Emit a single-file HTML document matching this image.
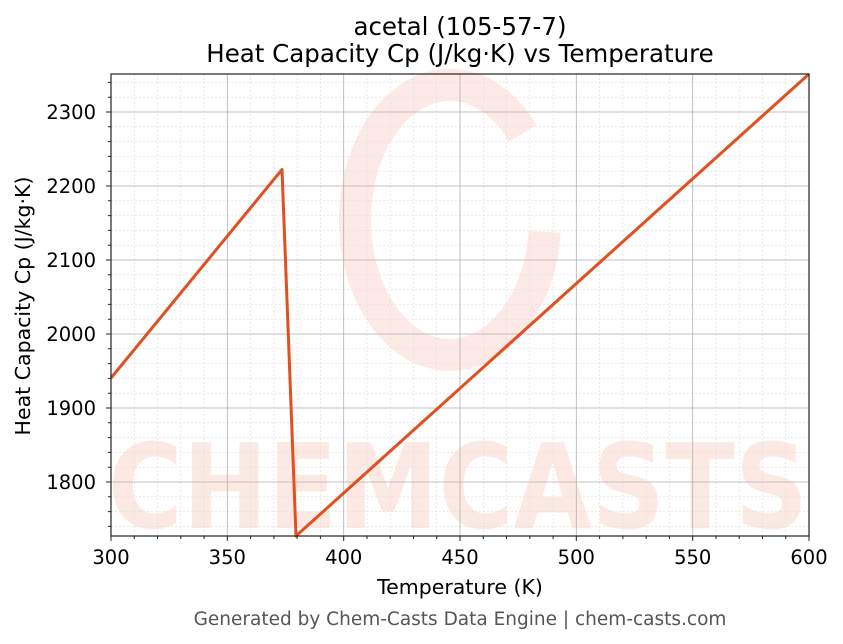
<!DOCTYPE html>
<html><head><meta charset="utf-8"><style>body{margin:0;background:#fff}svg{display:block;font-family:"DejaVu Sans","Liberation Sans",sans-serif}</style></head><body>
<svg width="843" height="644" viewBox="0 0 843 644">
<rect width="843" height="644" fill="#fff"/>
<path d="M522.8 133.2 A95 135 0 1 0 544.6 231.8" fill="none" stroke="#f0603a" stroke-width="32" opacity="0.13"/>
<text x="458" y="528" font-size="118" font-weight="bold" fill="#f0603a" opacity="0.13" text-anchor="middle" textLength="700" lengthAdjust="spacingAndGlyphs">CHEMCASTS</text>
<g stroke="#ddd" stroke-width="0.6" stroke-dasharray="2,2">
<path d="M134.3 74V536M157.5 74V536M180.8 74V536M204.1 74V536M250.6 74V536M273.9 74V536M297.1 74V536M320.4 74V536M367 74V536M390.2 74V536M413.5 74V536M436.7 74V536M483.3 74V536M506.5 74V536M529.8 74V536M553.1 74V536M599.6 74V536M622.9 74V536M646.2 74V536M669.4 74V536M716 74V536M739.2 74V536M762.5 74V536M785.7 74V536"/>
<path d="M111 526.4H809M111 511.6H809M111 496.8H809M111 467.2H809M111 452.4H809M111 437.6H809M111 422.8H809M111 393.2H809M111 378.4H809M111 363.6H809M111 348.8H809M111 319.2H809M111 304.4H809M111 289.6H809M111 274.8H809M111 245.2H809M111 230.4H809M111 215.6H809M111 200.8H809M111 171.2H809M111 156.4H809M111 141.6H809M111 126.8H809M111 97.2H809M111 82.4H809"/>
</g>
<g stroke="#b0b0b0" stroke-width="0.8">
<path d="M227.3 74V536M343.7 74V536M460 74V536M576.3 74V536M692.7 74V536"/>
<path d="M111 482H809M111 408H809M111 334H809M111 260H809M111 186H809M111 112H809"/>
</g>
<polyline points="111,378 282,169.5 296,536 809,74" fill="none" stroke="#e05020" stroke-width="3" stroke-linejoin="round"/>
<rect x="111" y="74" width="698" height="462" fill="none" stroke="#222" stroke-width="1.2"/>
<g stroke="#222" stroke-width="1">
<path d="M111 536v5M227.3 536v5M343.7 536v5M460 536v5M576.3 536v5M692.7 536v5M809 536v5"/>
<path d="M134.3 536v3M157.5 536v3M180.8 536v3M204.1 536v3M250.6 536v3M273.9 536v3M297.1 536v3M320.4 536v3M367 536v3M390.2 536v3M413.5 536v3M436.7 536v3M483.3 536v3M506.5 536v3M529.8 536v3M553.1 536v3M599.6 536v3M622.9 536v3M646.2 536v3M669.4 536v3M716 536v3M739.2 536v3M762.5 536v3M785.7 536v3"/>
<path d="M111 482h-5M111 408h-5M111 334h-5M111 260h-5M111 186h-5M111 112h-5"/>
<path d="M111 526.4h-3M111 511.6h-3M111 496.8h-3M111 467.2h-3M111 452.4h-3M111 437.6h-3M111 422.8h-3M111 393.2h-3M111 378.4h-3M111 363.6h-3M111 348.8h-3M111 319.2h-3M111 304.4h-3M111 289.6h-3M111 274.8h-3M111 245.2h-3M111 230.4h-3M111 215.6h-3M111 200.8h-3M111 171.2h-3M111 156.4h-3M111 141.6h-3M111 126.8h-3M111 97.2h-3M111 82.4h-3"/>
</g>
<g font-size="19.5" fill="#000" text-anchor="middle">
<text x="111" y="564">300</text><text x="227.3" y="564">350</text><text x="343.7" y="564">400</text><text x="460" y="564">450</text><text x="576.3" y="564">500</text><text x="692.7" y="564">550</text><text x="809" y="564">600</text>
</g>
<g font-size="19.5" fill="#000" text-anchor="end">
<text x="96" y="489">1800</text><text x="96" y="415">1900</text><text x="96" y="341">2000</text><text x="96" y="267">2100</text><text x="96" y="193">2200</text><text x="96" y="119">2300</text>
</g>
<text x="460" y="594" font-size="20.5" text-anchor="middle">Temperature (K)</text>
<text transform="translate(30 306) rotate(-90)" font-size="20.5" text-anchor="middle">Heat Capacity Cp (J/kg·K)</text>
<text x="460" y="35" font-size="24.5" text-anchor="middle">acetal (105-57-7)</text>
<text x="460" y="62" font-size="24.5" text-anchor="middle">Heat Capacity Cp (J/kg·K) vs Temperature</text>
<text x="460" y="625" font-size="18.5" fill="#555" text-anchor="middle">Generated by Chem-Casts Data Engine | chem-casts.com</text>
</svg>
</body></html>
